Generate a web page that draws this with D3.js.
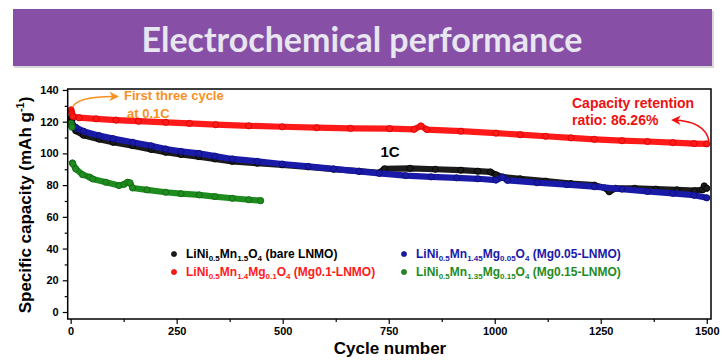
<!DOCTYPE html>
<html>
<head>
<meta charset="utf-8">
<script src="https://cdn.jsdelivr.net/npm/d3@7"></script>
<style>
  body { margin: 0; background: #fff; }
  svg { display: block; font-family: "Liberation Sans", Arial, sans-serif; }
  .axis text { font-size: 11px; font-weight: bold; fill: #000; }
  .axis line { stroke: #000; stroke-width: 1.2; }
</style>
</head>
<body>
<div id="chart"></div>
<script>
// cycle number / capacity
var bareCycles = [1, 2, 3, 5, 12, 30, 67, 100, 146, 190, 224, 260, 302, 340, 381, 440, 499, 560, 620, 680, 728, 740, 800, 860, 920, 960, 990, 1003, 1020, 1060, 1120, 1180, 1235, 1260, 1270, 1285, 1330, 1380, 1430, 1471, 1490, 1494, 1500];
var bareCap    = [122.5, 121.5, 121, 117.5, 114.3, 111.5, 109, 107, 104.9, 102.5, 100.7, 99.3, 98, 96.5, 95, 93.8, 92.8, 91.5, 90, 88.8, 87.8, 90.3, 90.6, 90, 89.4, 88.8, 88.3, 86.5, 85, 84, 82.5, 81, 80, 78.2, 75.8, 78, 78, 77.5, 77, 76.5, 77, 79.5, 78];

var mg005Cycles = [1, 2, 3, 5, 12, 30, 67, 100, 146, 190, 224, 260, 302, 340, 381, 440, 499, 560, 620, 680, 728, 790, 850, 910, 960, 1003, 1019, 1030, 1100, 1170, 1235, 1300, 1360, 1420, 1470, 1500];
var mg005Cap    = [119, 118.5, 118, 118, 116.4, 114, 111.2, 109.3, 107, 104.8, 102.8, 101.3, 100, 98.3, 96.5, 95, 93.3, 91.8, 90.2, 88.7, 87.4, 86, 85.2, 84.6, 84, 83.2, 85, 83, 81.5, 80.3, 79, 77.5, 76, 74.8, 73.6, 72];

var mg01Cycles = [1, 2, 3, 5, 20, 60, 107, 160, 224, 280, 342, 420, 499, 580, 660, 752, 810, 826, 840, 920, 1003, 1060, 1120, 1180, 1235, 1300, 1360, 1420, 1470, 1500];
var mg01Cap    = [127.5, 126, 125, 123.4, 122.5, 121.8, 121, 120.3, 119.6, 118.9, 118.1, 117.4, 116.8, 116.2, 115.8, 115.6, 115.2, 117.3, 115, 114, 112.8, 111.8, 110.8, 109.8, 108.9, 108, 107.5, 106.8, 106.2, 106];

var mg015Cycles = [1, 2, 3, 4, 5, 12, 28, 45, 52, 83, 114, 126, 134, 140, 146, 180, 224, 260, 303, 340, 381, 420, 448];
var mg015Cap    = [119, 117.5, 116.5, 94, 93.5, 90.2, 86.6, 85, 83.9, 81.8, 79.7, 80.5, 81.8, 81.5, 78.2, 77, 75.5, 74.6, 73.8, 72.8, 71.7, 70.8, 70.2];

var xTicks = [0, 250, 500, 750, 1000, 1250, 1500];
var xMinor = [125, 375, 625, 875, 1125, 1375];
var yTicks = [0, 20, 40, 60, 80, 100, 120, 140];
var yMinor = [10, 30, 50, 70, 90, 110, 130];

// drawing order: black, blue, red, green
var series = [
  {cycles: bareCycles, cap: bareCap, color: "#1b1b1b", edge: "#000", text: "#000",
   label: [["LiNi"], ["0.5", 1], ["Mn"], ["1.5", 1], ["O"], ["4", 1], [" (bare LNMO)"]], lx: 174, ly: 254},
  {cycles: mg005Cycles, cap: mg005Cap, color: "#1a1aa8", edge: "#0c0c70", text: "#1a1aa8",
   label: [["LiNi"], ["0.5", 1], ["Mn"], ["1.45", 1], ["Mg"], ["0.05", 1], ["O"], ["4", 1], [" (Mg0.05-LNMO)"]], lx: 404, ly: 254},
  {cycles: mg01Cycles, cap: mg01Cap, color: "#ff1a1a", edge: "#d00000", text: "#ff1a1a",
   label: [["LiNi"], ["0.5", 1], ["Mn"], ["1.4", 1], ["Mg"], ["0.1", 1], ["O"], ["4", 1], [" (Mg0.1-LNMO)"]], lx: 174, ly: 272},
  {cycles: mg015Cycles, cap: mg015Cap, color: "#1f8c1f", edge: "#116611", text: "#1f8c1f",
   label: [["LiNi"], ["0.5", 1], ["Mn"], ["1.35", 1], ["Mg"], ["0.15", 1], ["O"], ["4", 1], [" (Mg0.15-LNMO)"]], lx: 404, ly: 272}
];

var width = 724, height = 360;

var svg = d3.select("#chart").append("svg")
    .attr("width", width)
    .attr("height", height);

// title banner
svg.append("rect")
    .attr("x", 14).attr("y", 11).attr("width", 700).attr("height", 57)
    .attr("fill", "#d8d8d8");
svg.append("rect")
    .attr("x", 13).attr("y", 9).attr("width", 699).attr("height", 57)
    .attr("fill", "#8750a6");
var title = svg.append("text")
    .attr("x", 362).attr("y", 52)
    .attr("text-anchor", "middle")
    .style("font-family", "Lato, 'Open Sans', sans-serif")
    .style("font-weight", "bold")
    .style("font-size", "36px")
    .style("fill", "#e8e6f0")
    .text("Electrochemical performance");
var tw = title.node().getComputedTextLength();
title.style("font-size", (36 * 441 / tw) + "px");

// scales
var x = d3.scaleLinear().domain([-7, 1510]).range([67.7, 711]);
var y = d3.scaleLinear().domain([-4.4, 140.6]).range([319, 89]);

// axes
svg.append("g").attr("class", "axis")
    .attr("transform", "translate(0,319)")
    .call(d3.axisBottom(x).tickValues(xTicks).tickSize(5).tickPadding(3).tickFormat(d3.format("d")))
    .call(function(g) { g.select(".domain").remove(); });
svg.append("g").attr("class", "axis")
    .attr("transform", "translate(0,319)")
    .call(d3.axisBottom(x).tickValues(xMinor).tickSize(3).tickFormat(""))
    .call(function(g) { g.select(".domain").remove(); });
svg.append("g").attr("class", "axis")
    .attr("transform", "translate(67.7,0)")
    .call(d3.axisLeft(y).tickValues(yTicks).tickSize(5).tickPadding(4))
    .call(function(g) { g.select(".domain").remove(); });
svg.append("g").attr("class", "axis")
    .attr("transform", "translate(67.7,0)")
    .call(d3.axisLeft(y).tickValues(yMinor).tickSize(3).tickFormat(""))
    .call(function(g) { g.select(".domain").remove(); });

// data
var line = d3.line()
    .x(function(d) { return x(d[0]); })
    .y(function(d) { return y(d[1]); });

series.forEach(function(s) {
  var pts = s.cycles.map(function(c, i) { return [c, s.cap[i]]; });
  var g = svg.append("g");
  g.append("path")
      .datum(pts.filter(function(d) { return d[0] > 3; }))
      .attr("d", line)
      .attr("fill", "none")
      .attr("stroke", s.color)
      .attr("stroke-width", 6.2)
      .attr("stroke-linejoin", "round")
      .attr("stroke-linecap", "round");
  g.selectAll("circle")
      .data(pts)
      .enter().append("circle")
      .attr("cx", function(d) { return x(d[0]); })
      .attr("cy", function(d) { return y(d[1]); })
      .attr("r", 3.1)
      .attr("fill", s.color)
      .attr("stroke", s.edge)
      .attr("stroke-width", 0.8);
});

// frame
svg.append("rect")
    .attr("x", 67.7).attr("y", 89)
    .attr("width", 711 - 67.7).attr("height", 319 - 89)
    .attr("fill", "none")
    .attr("stroke", "#000")
    .attr("stroke-width", 1.5);

// axis titles
svg.append("text")
    .attr("x", 390).attr("y", 354)
    .attr("text-anchor", "middle")
    .style("font-size", "17px").style("font-weight", "bold")
    .text("Cycle number");
var yt = svg.append("text")
    .attr("transform", "translate(31,205) rotate(-90)")
    .attr("text-anchor", "middle")
    .style("font-size", "17px").style("font-weight", "bold");
yt.append("tspan").text("Specific capacity (mAh g");
yt.append("tspan").attr("dy", -7).style("font-size", "11px").text("-1");
yt.append("tspan").attr("dy", 7).text(")");

// legend
series.forEach(function(s) {
  svg.append("circle")
      .attr("cx", s.lx).attr("cy", s.ly).attr("r", 2.6)
      .attr("fill", s.color).attr("stroke", s.edge).attr("stroke-width", 0.6);
  var t = svg.append("text")
      .attr("x", s.lx + 12).attr("y", s.ly + 4)
      .style("font-size", "12px").style("font-weight", "bold")
      .style("fill", s.text);
  var down = false;
  s.label.forEach(function(p) {
    var ts = t.append("tspan").text(p[0]);
    if (p[1] && !down) { ts.attr("dy", 3).style("font-size", "8px"); down = true; }
    else if (p[1]) { ts.style("font-size", "8px"); }
    else if (down) { ts.attr("dy", -3); down = false; }
  });
});

// annotations
var defs = svg.append("defs");
[["arrOrange", "#f7901e"], ["arrRed", "#ee1111"]].forEach(function(a) {
  defs.append("marker")
      .attr("id", a[0])
      .attr("viewBox", "0 0 10 10")
      .attr("refX", 8).attr("refY", 5)
      .attr("markerWidth", 6).attr("markerHeight", 6)
      .attr("orient", "auto")
    .append("path")
      .attr("d", "M0,0 L10,5 L0,10 L3,5 Z")
      .attr("fill", a[1]);
});

svg.append("path")
    .attr("d", "M72.5,107 Q78,96 117,96.5")
    .attr("fill", "none").attr("stroke", "#f7901e").attr("stroke-width", 1.6)
    .attr("marker-end", "url(#arrOrange)");
svg.append("text").attr("x", 124).attr("y", 100)
    .style("font-size", "13px").style("font-weight", "bold").style("fill", "#f7901e")
    .text("First three cycle");
svg.append("text").attr("x", 127).attr("y", 118)
    .style("font-size", "13px").style("font-weight", "bold").style("fill", "#f7901e")
    .text("at 0.1C");

svg.append("path")
    .attr("d", "M709,141 Q705,121 673,120")
    .attr("fill", "none").attr("stroke", "#ee1111").attr("stroke-width", 1.6)
    .attr("marker-end", "url(#arrRed)");
svg.append("text").attr("x", 572).attr("y", 108)
    .style("font-size", "14px").style("font-weight", "bold").style("fill", "#ee1111")
    .text("Capacity retention");
svg.append("text").attr("x", 572).attr("y", 125)
    .style("font-size", "14px").style("font-weight", "bold").style("fill", "#ee1111")
    .text("ratio: 86.26%");

svg.append("text").attr("x", 390).attr("y", 157)
    .attr("text-anchor", "middle")
    .style("font-size", "15px").style("font-weight", "bold")
    .text("1C");
</script>
</body>
</html>
